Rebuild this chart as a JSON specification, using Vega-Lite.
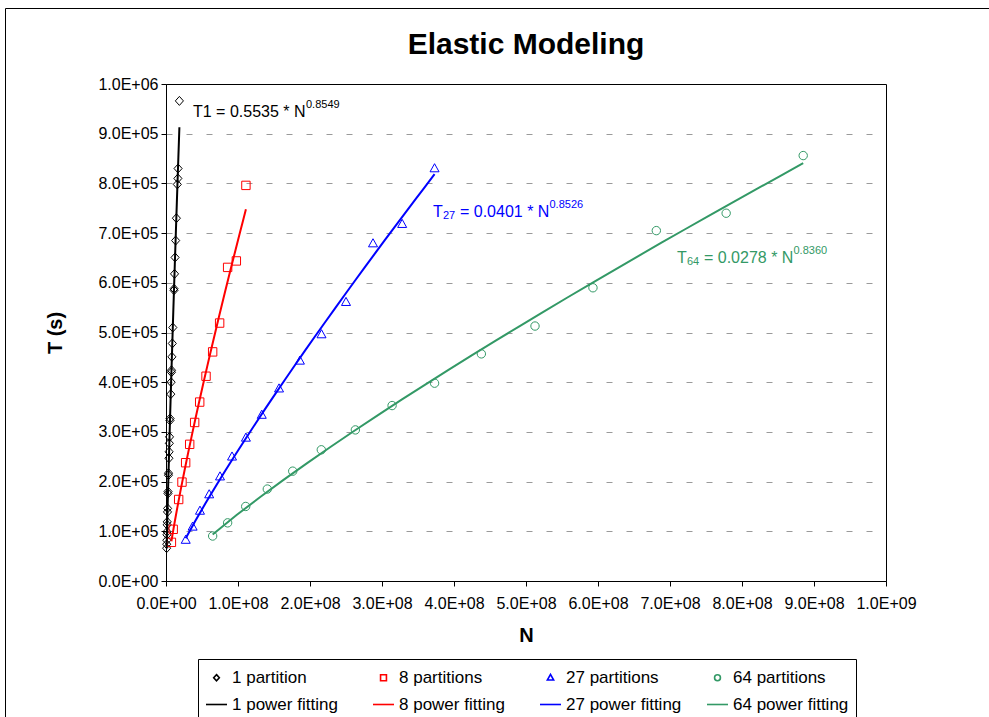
{
  "$schema": "https://vega.github.io/schema/vega-lite/v6.json",
  "width": 720,
  "height": 497,
  "autosize": {"type": "none"},
  "padding": {"left": 166, "top": 84, "right": 103, "bottom": 136},
  "background": "white",
  "title": {"text": "Elastic Modeling", "fontSize": 30, "font": "Liberation Sans", "fontWeight": "bold", "color": "black", "anchor": "middle", "frame": "group", "offset": -52},
  "config": {
    "font": "Liberation Sans",
    "view": {"stroke": "black", "strokeWidth": 1},
    "axis": {"labelFont": "Liberation Sans", "titleFont": "Liberation Sans", "labelFontSize": 16, "titleFontSize": 20, "titleFontWeight": "bold", "labelColor": "black", "titleColor": "black", "domainColor": "black", "tickColor": "black", "tickSize": 5, "domainWidth": 1, "tickWidth": 1},
    "legend": {"orient": "none", "legendX": 32, "legendY": 575, "columns": 4, "direction": "horizontal", "strokeColor": "black", "fillColor": "white", "padding": 7, "labelFont": "Liberation Sans", "labelFontSize": 17, "labelColor": "black", "symbolSize": 441, "symbolStrokeWidth": 1.6, "labelOffset": 4, "columnPadding": 21, "rowPadding": 7, "gridAlign": "all", "labelLimit": 300}
  },
  "datasets": {
    "pts": [
      {"series": "1 partition", "fit": "1 power fitting", "N": 866000, "T": 66000},
      {"series": "1 partition", "fit": "1 power fitting", "N": 990000, "T": 74000},
      {"series": "1 partition", "fit": "1 power fitting", "N": 1120000, "T": 82000},
      {"series": "1 partition", "fit": "1 power fitting", "N": 1290000, "T": 93000},
      {"series": "1 partition", "fit": "1 power fitting", "N": 1390000, "T": 99000},
      {"series": "1 partition", "fit": "1 power fitting", "N": 1630000, "T": 113000},
      {"series": "1 partition", "fit": "1 power fitting", "N": 1730000, "T": 119000},
      {"series": "1 partition", "fit": "1 power fitting", "N": 2070000, "T": 139000},
      {"series": "1 partition", "fit": "1 power fitting", "N": 2190000, "T": 146000},
      {"series": "1 partition", "fit": "1 power fitting", "N": 2730000, "T": 176000},
      {"series": "1 partition", "fit": "1 power fitting", "N": 2810000, "T": 180000},
      {"series": "1 partition", "fit": "1 power fitting", "N": 3410000, "T": 213000},
      {"series": "1 partition", "fit": "1 power fitting", "N": 3490000, "T": 217000},
      {"series": "1 partition", "fit": "1 power fitting", "N": 4060000, "T": 247000},
      {"series": "1 partition", "fit": "1 power fitting", "N": 4310000, "T": 260000},
      {"series": "1 partition", "fit": "1 power fitting", "N": 4640000, "T": 277000},
      {"series": "1 partition", "fit": "1 power fitting", "N": 4900000, "T": 290000},
      {"series": "1 partition", "fit": "1 power fitting", "N": 5550000, "T": 323000},
      {"series": "1 partition", "fit": "1 power fitting", "N": 5640000, "T": 327000},
      {"series": "1 partition", "fit": "1 power fitting", "N": 6640000, "T": 376000},
      {"series": "1 partition", "fit": "1 power fitting", "N": 7130000, "T": 400000},
      {"series": "1 partition", "fit": "1 power fitting", "N": 7550000, "T": 420000},
      {"series": "1 partition", "fit": "1 power fitting", "N": 7640000, "T": 424000},
      {"series": "1 partition", "fit": "1 power fitting", "N": 8210000, "T": 451000},
      {"series": "1 partition", "fit": "1 power fitting", "N": 8780000, "T": 478000},
      {"series": "1 partition", "fit": "1 power fitting", "N": 9470000, "T": 510000},
      {"series": "1 partition", "fit": "1 power fitting", "N": 11130000, "T": 585000},
      {"series": "1 partition", "fit": "1 power fitting", "N": 11190000, "T": 588000},
      {"series": "1 partition", "fit": "1 power fitting", "N": 11860000, "T": 618000},
      {"series": "1 partition", "fit": "1 power fitting", "N": 12610000, "T": 651000},
      {"series": "1 partition", "fit": "1 power fitting", "N": 13390000, "T": 685000},
      {"series": "1 partition", "fit": "1 power fitting", "N": 14420000, "T": 730000},
      {"series": "1 partition", "fit": "1 power fitting", "N": 15700000, "T": 798000},
      {"series": "1 partition", "fit": "1 power fitting", "N": 16500000, "T": 810000},
      {"series": "1 partition", "fit": "1 power fitting", "N": 16750000, "T": 830000},
      {"series": "1 partition", "fit": "1 power fitting", "N": 18600000, "T": 966000},
      {"series": "8 partitions", "fit": "8 power fitting", "N": 7500000, "T": 77800},
      {"series": "8 partitions", "fit": "8 power fitting", "N": 10000000, "T": 104000},
      {"series": "8 partitions", "fit": "8 power fitting", "N": 17600000, "T": 164000},
      {"series": "8 partitions", "fit": "8 power fitting", "N": 22200000, "T": 199000},
      {"series": "8 partitions", "fit": "8 power fitting", "N": 27300000, "T": 238000},
      {"series": "8 partitions", "fit": "8 power fitting", "N": 32900000, "T": 275000},
      {"series": "8 partitions", "fit": "8 power fitting", "N": 39800000, "T": 319000},
      {"series": "8 partitions", "fit": "8 power fitting", "N": 46800000, "T": 360000},
      {"series": "8 partitions", "fit": "8 power fitting", "N": 55600000, "T": 412000},
      {"series": "8 partitions", "fit": "8 power fitting", "N": 64800000, "T": 461000},
      {"series": "8 partitions", "fit": "8 power fitting", "N": 74500000, "T": 519000},
      {"series": "8 partitions", "fit": "8 power fitting", "N": 85600000, "T": 631000},
      {"series": "8 partitions", "fit": "8 power fitting", "N": 97700000, "T": 644000},
      {"series": "8 partitions", "fit": "8 power fitting", "N": 111000000, "T": 796000},
      {"series": "27 partitions", "fit": "27 power fitting", "N": 27400000, "T": 82500},
      {"series": "27 partitions", "fit": "27 power fitting", "N": 37000000, "T": 109000},
      {"series": "27 partitions", "fit": "27 power fitting", "N": 47200000, "T": 141000},
      {"series": "27 partitions", "fit": "27 power fitting", "N": 60000000, "T": 174000},
      {"series": "27 partitions", "fit": "27 power fitting", "N": 75000000, "T": 210000},
      {"series": "27 partitions", "fit": "27 power fitting", "N": 91700000, "T": 250000},
      {"series": "27 partitions", "fit": "27 power fitting", "N": 111000000, "T": 288000},
      {"series": "27 partitions", "fit": "27 power fitting", "N": 133000000, "T": 334000},
      {"series": "27 partitions", "fit": "27 power fitting", "N": 157000000, "T": 387000},
      {"series": "27 partitions", "fit": "27 power fitting", "N": 186000000, "T": 443000},
      {"series": "27 partitions", "fit": "27 power fitting", "N": 216000000, "T": 496000},
      {"series": "27 partitions", "fit": "27 power fitting", "N": 250000000, "T": 561000},
      {"series": "27 partitions", "fit": "27 power fitting", "N": 287500000, "T": 679000},
      {"series": "27 partitions", "fit": "27 power fitting", "N": 328000000, "T": 718000},
      {"series": "27 partitions", "fit": "27 power fitting", "N": 373000000, "T": 830000},
      {"series": "64 partitions", "fit": "64 power fitting", "N": 64800000, "T": 90500},
      {"series": "64 partitions", "fit": "64 power fitting", "N": 85600000, "T": 117000},
      {"series": "64 partitions", "fit": "64 power fitting", "N": 110700000, "T": 150000},
      {"series": "64 partitions", "fit": "64 power fitting", "N": 140700000, "T": 185000},
      {"series": "64 partitions", "fit": "64 power fitting", "N": 176000000, "T": 221000},
      {"series": "64 partitions", "fit": "64 power fitting", "N": 215700000, "T": 264000},
      {"series": "64 partitions", "fit": "64 power fitting", "N": 263000000, "T": 304000},
      {"series": "64 partitions", "fit": "64 power fitting", "N": 314000000, "T": 353000},
      {"series": "64 partitions", "fit": "64 power fitting", "N": 373000000, "T": 398000},
      {"series": "64 partitions", "fit": "64 power fitting", "N": 438000000, "T": 457000},
      {"series": "64 partitions", "fit": "64 power fitting", "N": 512500000, "T": 513000},
      {"series": "64 partitions", "fit": "64 power fitting", "N": 593000000, "T": 590000},
      {"series": "64 partitions", "fit": "64 power fitting", "N": 681000000, "T": 705000},
      {"series": "64 partitions", "fit": "64 power fitting", "N": 778000000, "T": 740000},
      {"series": "64 partitions", "fit": "64 power fitting", "N": 885000000, "T": 856000}
    ],
    "eqMain": [
      {"eq": "T1", "N": 37500000, "T": 943700, "txt": "T1 = 0.5535 * N"},
      {"eq": "T27", "N": 370800000, "T": 742500, "txt": "T"},
      {"eq": "T27", "N": 408300000, "T": 742500, "txt": "= 0.0401 * N"},
      {"eq": "T64", "N": 709700000, "T": 649900, "txt": "T"},
      {"eq": "T64", "N": 747200000, "T": 649900, "txt": "= 0.0278 * N"}
    ],
    "eqSmall": [
      {"eq": "T1", "N": 194400000, "T": 957700, "txt": "0.8549"},
      {"eq": "T27", "N": 384700000, "T": 734400, "txt": "27"},
      {"eq": "T27", "N": 532600000, "T": 756500, "txt": "0.8526"},
      {"eq": "T64", "N": 723600000, "T": 641900, "txt": "64"},
      {"eq": "T64", "N": 871500000, "T": 664000, "txt": "0.8360"}
    ]
  },
  "layer": [
    {
      "data": {"values": [{}]},
      "mark": {"type": "rule", "color": "black", "strokeWidth": 1, "clip": false},
      "encoding": {
        "x": {"datum": -222900000, "type": "quantitative"},
        "x2": {"datum": 1200000000},
        "y": {"datum": 1151900, "type": "quantitative"}
      }
    },
    {
      "data": {"values": [{}]},
      "mark": {"type": "rule", "color": "black", "strokeWidth": 1, "clip": false},
      "encoding": {
        "x": {"datum": -222900000, "type": "quantitative"},
        "y": {"datum": 1151900, "type": "quantitative"},
        "y2": {"datum": -300000}
      }
    },
    {
      "data": {"name": "pts"},
      "mark": {"type": "point", "filled": false, "opacity": 1, "size": 900, "strokeWidth": 1},
      "encoding": {
        "x": {
          "field": "N", "type": "quantitative",
          "scale": {"domain": [0, 1000000000], "nice": false, "zero": false},
          "axis": {"title": "N", "values": [0, 100000000, 200000000, 300000000, 400000000, 500000000, 600000000, 700000000, 800000000, 900000000, 1000000000], "labelExpr": "replace(upper(format(datum.value, '.1e')), 'E+', 'E+0')", "grid": false, "labelPadding": 9, "titlePadding": 14, "labelFlush": false, "labelOverlap": false}
        },
        "y": {
          "field": "T", "type": "quantitative",
          "scale": {"domain": [0, 1000000], "nice": false, "zero": false},
          "axis": {"title": "T (s)", "values": [0, 100000, 200000, 300000, 400000, 500000, 600000, 700000, 800000, 900000, 1000000], "labelExpr": "replace(upper(format(datum.value, '.1e')), 'E+', 'E+0')", "grid": true, "gridDash": [6, 14], "gridColor": "#9a9a9a", "gridWidth": 1, "gridOpacity": {"condition": {"test": "datum.value >= 1000000 || datum.value <= 0", "value": 0}, "value": 1}, "labelPadding": 3, "titlePadding": 32, "labelFlush": false, "labelOverlap": false}
        },
        "color": {
          "field": "series", "type": "nominal", "title": null,
          "scale": {"domain": ["1 partition", "8 partitions", "27 partitions", "64 partitions", "1 power fitting", "8 power fitting", "27 power fitting", "64 power fitting"], "range": ["#000000", "#ff0000", "#0000ff", "#339966", "#000000", "#ff0000", "#0000ff", "#339966"]}
        },
        "shape": {
          "field": "series", "type": "nominal", "title": null,
          "scale": {"domain": ["1 partition", "8 partitions", "27 partitions", "64 partitions", "1 power fitting", "8 power fitting", "27 power fitting", "64 power fitting"], "range": ["M0,-0.3L0.27,0L0,0.3L-0.27,0Z", "M-0.28,-0.28H0.28V0.28H-0.28Z", "M0,-0.32L0.3,0.22H-0.3Z", "M0.28,0A0.28,0.28,0,1,1,-0.28,0A0.28,0.28,0,1,1,0.28,0Z", "stroke", "stroke", "stroke", "stroke"]}
        }
      }
    },
    {
      "data": {"name": "pts"},
      "transform": [{"regression": "T", "on": "N", "groupby": ["fit"], "method": "pow"}],
      "mark": {"type": "line", "strokeWidth": 2},
      "encoding": {
        "x": {"field": "N", "type": "quantitative"},
        "y": {"field": "T", "type": "quantitative"},
        "color": {"field": "fit", "type": "nominal", "title": null}
      }
    },
    {
      "data": {"name": "eqMain"},
      "mark": {"type": "text", "align": "left", "baseline": "middle", "fontSize": 16, "font": "Liberation Sans"},
      "encoding": {
        "x": {"field": "N", "type": "quantitative"},
        "y": {"field": "T", "type": "quantitative"},
        "text": {"field": "txt"},
        "fill": {"field": "eq", "type": "nominal", "scale": {"domain": ["T1", "T27", "T64"], "range": ["#000000", "#0000ff", "#339966"]}, "legend": null}
      }
    },
    {
      "data": {"name": "eqSmall"},
      "mark": {"type": "text", "align": "left", "baseline": "middle", "fontSize": 11, "font": "Liberation Sans"},
      "encoding": {
        "x": {"field": "N", "type": "quantitative"},
        "y": {"field": "T", "type": "quantitative"},
        "text": {"field": "txt"},
        "fill": {"field": "eq", "type": "nominal", "legend": null}
      }
    }
  ]
}
